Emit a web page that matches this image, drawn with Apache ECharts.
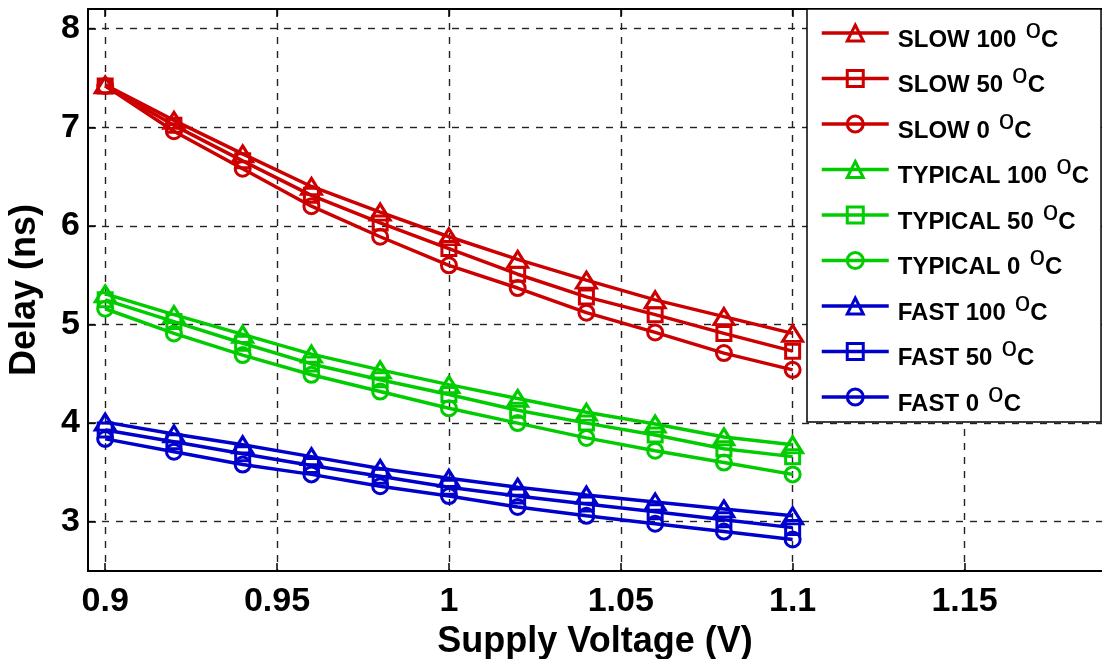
<!DOCTYPE html>
<html>
<head>
<meta charset="utf-8">
<script src="https://cdn.jsdelivr.net/npm/echarts@6/dist/echarts.min.js"></script>
<style>
  html, body { margin: 0; padding: 0; background: #fff; }
  #chart { width: 1102px; height: 659px; }
</style>
</head>
<body>
<div id="chart"></div>
<script>
// supply voltage sweep (V)
const voltage = [0.9, 0.92, 0.94, 0.96, 0.98, 1.0, 1.02, 1.04, 1.06, 1.08, 1.1];

// delay (ns) per corner / temperature
const slow100 = [7.43, 7.07, 6.73, 6.40, 6.14, 5.89, 5.66, 5.45, 5.25, 5.08, 4.91];
const slow50 = [7.42, 7.02, 6.66, 6.31, 6.03, 5.77, 5.51, 5.28, 5.10, 4.91, 4.73];
const slow0 = [7.42, 6.96, 6.58, 6.20, 5.89, 5.60, 5.37, 5.12, 4.92, 4.71, 4.54];
const typ100 = [5.31, 5.10, 4.90, 4.70, 4.54, 4.39, 4.25, 4.11, 3.99, 3.86, 3.78];
const typ50 = [5.25, 5.03, 4.81, 4.60, 4.44, 4.29, 4.13, 4.00, 3.88, 3.74, 3.66];
const typ0 = [5.16, 4.91, 4.69, 4.49, 4.32, 4.15, 4.00, 3.85, 3.72, 3.60, 3.48];
const fast100 = [4.01, 3.89, 3.78, 3.66, 3.54, 3.44, 3.35, 3.27, 3.20, 3.13, 3.06];
const fast50 = [3.93, 3.81, 3.69, 3.57, 3.46, 3.35, 3.26, 3.18, 3.10, 3.02, 2.94];
const fast0 = [3.84, 3.71, 3.58, 3.48, 3.36, 3.26, 3.15, 3.06, 2.98, 2.90, 2.82];

const xTicks = [0.9, 0.95, 1.0, 1.05, 1.1, 1.15];
const yTicks = [3, 4, 5, 6, 7, 8];

const FONT = "'Liberation Sans', Arial, sans-serif";
const RED = "#cc0000";
const GREEN = "#00cc00";
const BLUE = "#0000cc";

function makeSeries(name, values, color, symbol) {
  const size = symbol === "triangle" ? [20, 16] : symbol === "rect" ? [14, 14] : 15;
  return {
    name: name,
    type: "line",
    data: voltage.map((v, i) => [v, values[i]]),
    symbol: symbol,
    symbolSize: size,
    showAllSymbol: true,
    lineStyle: { color: color, width: 3.5 },
    itemStyle: { color: "rgba(255,255,255,0)", borderColor: color, borderWidth: 3 },
    emphasis: { disabled: true },
    animation: false
  };
}

const gridLine = { show: true, lineStyle: { color: "#222", width: 1.4, type: [7, 7] } };

const chart = echarts.init(document.getElementById("chart"));
chart.setOption({
  backgroundColor: "#fff",
  animation: false,
  textStyle: { fontFamily: FONT },
  grid: { left: 88, top: 9, right: 0, bottom: 88, outerBoundsMode: "none", containLabel: false },
  legend: {
    orient: "vertical",
    left: 807,
    top: 9,
    padding: [5, 12, 6, 13],
    itemWidth: 67,
    itemHeight: 20,
    itemGap: 7.5,
    backgroundColor: "#fff",
    borderColor: "#000",
    borderWidth: 1.5,
    borderRadius: 0,
    selectedMode: false,
    lineStyle: { width: 3.5 },
    itemStyle: { borderWidth: 3 },
    formatter: function (name) {
      const parts = name.split("°");
      return "{a|" + parts[0] + "}{s|o}{b|" + parts[1] + "}";
    },
    textStyle: {
      fontFamily: FONT,
      rich: {
        a: { fontFamily: FONT, fontSize: 24, fontWeight: "bold", color: "#000", lineHeight: 24, padding: [14, 0, 0, 4] },
        s: { fontFamily: FONT, fontSize: 28, fontWeight: "normal", color: "#000", lineHeight: 24, padding: [0, 0, 6, 9] },
        b: { fontFamily: FONT, fontSize: 24, fontWeight: "bold", color: "#000", lineHeight: 24, padding: [14, 0, 0, 0] }
      }
    }
  },
  xAxis: [
    {
      type: "value",
      min: 0.895,
      max: 1.19,
      name: "Supply Voltage (V)",
      nameLocation: "middle",
      nameGap: 41,
      nameTextStyle: { fontFamily: FONT, fontSize: 36, fontWeight: "bold", color: "#000" },
      axisLine: { show: true, onZero: false, lineStyle: { color: "#000", width: 2 } },
      axisTick: { show: true, inside: true, length: 8, customValues: xTicks, lineStyle: { color: "#000", width: 1.5 } },
      axisLabel: {
        customValues: xTicks,
        margin: 14,
        fontFamily: FONT,
        fontSize: 34,
        fontWeight: "bold",
        color: "#000",
        formatter: v => String(+v.toFixed(2))
      },
      splitLine: gridLine
    },
    {
      type: "value",
      position: "top",
      min: 0.895,
      max: 1.19,
      axisLine: { show: true, onZero: false, lineStyle: { color: "#000", width: 2 } },
      axisTick: { show: true, inside: true, length: 8, customValues: xTicks, lineStyle: { color: "#000", width: 1.5 } },
      axisLabel: { show: false },
      splitLine: { show: false }
    }
  ],
  yAxis: {
    type: "value",
    min: 2.5,
    max: 8.2,
    name: "Delay (ns)",
    nameLocation: "middle",
    nameGap: 45,
    nameTextStyle: { fontFamily: FONT, fontSize: 36, fontWeight: "bold", color: "#000" },
    axisLine: { show: true, onZero: false, lineStyle: { color: "#000", width: 2 } },
    axisTick: { show: true, inside: true, length: 8, customValues: yTicks, lineStyle: { color: "#000", width: 1.5 } },
    axisLabel: {
      customValues: yTicks,
      margin: 8,
      fontFamily: FONT,
      fontSize: 34,
      fontWeight: "bold",
      color: "#000"
    },
    splitLine: gridLine
  },
  series: [
    makeSeries("SLOW 100°C", slow100, RED, "triangle"),
    makeSeries("SLOW 50°C", slow50, RED, "rect"),
    makeSeries("SLOW 0°C", slow0, RED, "circle"),
    makeSeries("TYPICAL 100°C", typ100, GREEN, "triangle"),
    makeSeries("TYPICAL 50°C", typ50, GREEN, "rect"),
    makeSeries("TYPICAL 0°C", typ0, GREEN, "circle"),
    makeSeries("FAST 100°C", fast100, BLUE, "triangle"),
    makeSeries("FAST 50°C", fast50, BLUE, "rect"),
    makeSeries("FAST 0°C", fast0, BLUE, "circle")
  ]
});
</script>
</body>
</html>
